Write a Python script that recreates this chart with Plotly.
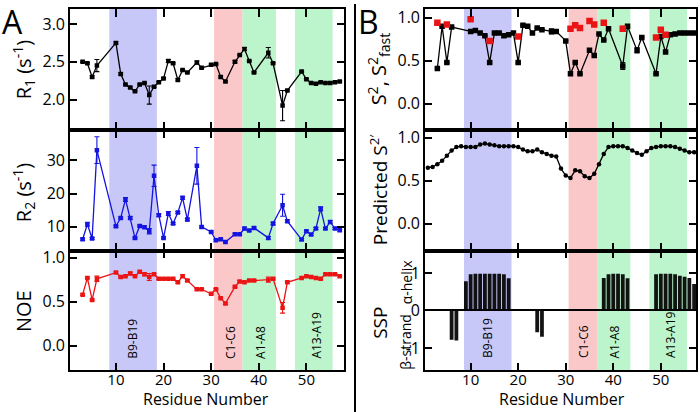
import plotly.graph_objects as go

# ---------------- data ----------------
residues = [3, 4, 5, 6, 10, 11, 12, 13, 14, 15, 16, 17, 18, 19, 20, 21, 22, 23, 24, 25,
            27, 28, 30, 31, 32, 33, 35, 36, 37, 38, 39, 42, 43, 45, 46,
            49, 50, 51, 52, 53, 54, 55, 56, 57]

r1 = [2.50, 2.48, 2.30, 2.45, 2.75, 2.34, 2.20, 2.16, 2.11, 2.20, 2.22, 2.06, 2.17, 2.23, 2.28, 2.51, 2.48, 2.26, 2.39, 2.36,
      2.49, 2.42, 2.46, 2.47, 2.30, 2.24, 2.50, 2.59, 2.67, 2.51, 2.36, 2.62, 2.48, 1.92, 2.12,
      2.37, 2.27, 2.22, 2.21, 2.23, 2.22, 2.22, 2.23, 2.24]
r1_err = [0.01, 0.01, 0.015, 0.08, 0.015, 0.015, 0.01, 0.01, 0.01, 0.01, 0.01, 0.12, 0.01, 0.01, 0.01, 0.02, 0.01, 0.015, 0.01, 0.01,
          0.02, 0.01, 0.01, 0.01, 0.015, 0.01, 0.015, 0.01, 0.02, 0.01, 0.01, 0.07, 0.01, 0.2, 0.01,
          0.01, 0.01, 0.01, 0.01, 0.01, 0.01, 0.01, 0.01, 0.01]

r2 = [6.3, 10.8, 6.5, 33.0, 10.2, 12.7, 18.2, 12.7, 6.7, 10.3, 9.9, 8.7, 25.3, 13.5, 6.7, 14.0, 11.0, 14.3, 18.7, 12.2,
      28.3, 10.0, 8.5, 6.0, 6.3, 5.5, 7.8, 7.8, 9.5, 8.9, 9.7, 6.7, 11.0, 16.5, 11.7,
      6.2, 8.7, 7.7, 9.5, 15.4, 9.5, 11.5, 9.5, 9.0]
r2_err = [0.3, 0.6, 0.3, 4.0, 0.3, 0.3, 0.6, 0.4, 0.3, 0.3, 0.3, 0.8, 3.2, 0.4, 0.3, 0.6, 0.3, 0.3, 0.4, 0.4,
          5.5, 0.3, 0.3, 0.3, 0.3, 0.3, 0.3, 0.3, 0.4, 0.3, 0.3, 0.4, 0.4, 3.3, 0.4,
          0.3, 0.3, 0.3, 0.3, 0.6, 0.3, 0.4, 0.3, 0.3]

noe = [0.58, 0.77, 0.52, 0.76, 0.83, 0.78, 0.79, 0.82, 0.79, 0.84, 0.81, 0.78, 0.81, 0.76, 0.76, 0.76, 0.76, 0.72, 0.79, 0.74,
       0.64, 0.64, 0.59, 0.64, 0.54, 0.48, 0.67, 0.73, 0.72, 0.74, 0.74, 0.75, 0.76, 0.43, 0.72,
       0.77, 0.79, 0.78, 0.77, 0.76, 0.81, 0.81, 0.81, 0.79]
noe_err = [0.01, 0.01, 0.01, 0.03, 0.01, 0.01, 0.01, 0.015, 0.01, 0.01, 0.015, 0.04, 0.01, 0.01, 0.01, 0.01, 0.01, 0.01, 0.015, 0.01,
           0.01, 0.01, 0.01, 0.01, 0.01, 0.01, 0.01, 0.01, 0.01, 0.01, 0.01, 0.03, 0.01, 0.06, 0.01,
           0.01, 0.01, 0.01, 0.01, 0.01, 0.01, 0.01, 0.01, 0.01]

s2 = [0.41, 0.90, 0.48, 0.89, 0.84, 0.85, 0.82, 0.79, 0.48, 0.82, 0.82, 0.79, 0.80, 0.82, 0.48, 0.91, 0.90, 0.82, 0.88, 0.86,
      0.84, 0.84, 0.73, 0.35, 0.48, 0.35, 0.62, 0.56, 0.81, 0.74, 0.87, 0.44, 0.90, 0.62, 0.77,
      0.35, 0.78, 0.60, 0.80, 0.81, 0.82, 0.82, 0.82, 0.82]
s2_err = [0.005, 0.005, 0.005, 0.005, 0.005, 0.005, 0.005, 0.005, 0.005, 0.005, 0.005, 0.02, 0.005, 0.005, 0.005, 0.005, 0.005, 0.005, 0.005, 0.005,
          0.03, 0.005, 0.005, 0.005, 0.005, 0.005, 0.005, 0.005, 0.005, 0.005, 0.005, 0.04, 0.005, 0.03, 0.005,
          0.005, 0.005, 0.005, 0.005, 0.005, 0.005, 0.005, 0.005, 0.005]

s2fast_res = [3, 5, 10, 14, 20, 31, 32, 33, 35, 36, 38, 42, 49, 50, 51]
s2fast = [0.94, 0.92, 0.98, 0.73, 0.78, 0.87, 0.91, 0.88, 0.96, 0.92, 0.94, 0.87, 0.77, 0.86, 0.80]
s2fast_err = [0, 0, 0, 0, 0, 0, 0, 0, 0, 0, 0, 0.03, 0, 0, 0]

pred_res = list(range(1, 58))
pred_s2 = [0.65, 0.66, 0.69, 0.73, 0.79, 0.85, 0.89, 0.90, 0.89, 0.89,
           0.89, 0.92, 0.93, 0.92, 0.91, 0.90, 0.90, 0.90, 0.90, 0.89,
           0.86, 0.84, 0.84, 0.86, 0.83, 0.81, 0.79, 0.78, 0.64, 0.56,
           0.53, 0.62, 0.61, 0.55, 0.53, 0.58, 0.69, 0.81, 0.89, 0.90,
           0.90, 0.90, 0.88, 0.85, 0.82, 0.80, 0.84, 0.88, 0.89, 0.90,
           0.90, 0.90, 0.89, 0.87, 0.85, 0.83, 0.83]

ssp_res = [6, 7, 9, 10, 11, 12, 13, 14, 15, 16, 17, 18, 24, 25,
           38, 39, 40, 41, 42, 43, 49, 50, 51, 52, 53, 54, 55, 56, 57]
ssp = [-0.78, -0.80, 0.78, 0.97, 0.98, 0.98, 0.98, 0.98, 0.98, 0.98, 0.97, 0.86, -0.58, -0.70,
       0.87, 0.97, 0.98, 0.98, 0.97, 0.86, 0.97, 0.98, 0.98, 0.98, 0.97, 0.93, 0.90, 0.87, 0.71]

band_labels = ["B9-B19", "C1-C6", "A1-A8", "A13-A19"]
band_start = [8.6, 30.6, 36.6, 47.6]
band_end = [18.6, 36.6, 43.6, 55.5]
band_colors = ["rgb(200,200,248)", "rgb(250,200,200)", "rgb(188,244,204)", "rgb(188,244,204)"]
label_pos_a = [13.6, 33.9, 40.2, 52.1]
label_pos_b = [13.4, 33.7, 40.3, 52.2]

x_ticks = [10, 20, 30, 40, 50]

# ---------------- layout geometry ----------------
W, H = 700, 412
FONT = "Open Sans"
def px(v):
    return v / W
def py(v):
    return 1 - v / H

xa_dom = [px(70), px(344)]
xb_dom = [px(425), px(696)]
rows = [(py(127), py(5)), (py(249), py(127)), (py(370), py(249))]

fig = go.Figure()

def series(x, y, err, color, n, symbol="square", size=4.5, width=1.3, mode="lines+markers"):
    kw = dict(x=x, y=y, mode=mode, xaxis="x" + ("" if n == 1 else str(n)),
              yaxis="y" + ("" if n == 1 else str(n)),
              line=dict(color=color, width=width),
              marker=dict(symbol=symbol, size=size, color=color),
              showlegend=False)
    if err is not None:
        kw["error_y"] = dict(type="data", array=err, color=color, thickness=1.1, width=2.5)
    fig.add_trace(go.Scatter(**kw))

black = "#000000"
blue = "rgb(20,20,225)"
red = "rgb(235,20,20)"

series(residues, r1, r1_err, black, 1)
series(residues, r2, r2_err, blue, 2)
series(residues, noe, noe_err, red, 3)
series(residues, s2, s2_err, black, 4, size=5.5)
series(s2fast_res, s2fast, s2fast_err, red, 4, size=6.5, mode="markers")
series(pred_res, pred_s2, None, black, 5, symbol="circle", size=4.5, width=1.3)
fig.add_trace(go.Bar(x=ssp_res, y=ssp, xaxis="x6", yaxis="y6", width=0.8,
                     marker=dict(color="rgba(0,0,0,0.92)", line=dict(width=0)), showlegend=False))

def xaxis(dom, rng, anchor, labels):
    return dict(domain=dom, range=rng, anchor=anchor, tickvals=x_ticks, ticks="inside", ticklen=8,
                tickwidth=1.5, tickcolor="black", showline=True, linecolor="black", linewidth=1.6,
                mirror="ticks", showgrid=False, zeroline=False, showticklabels=labels,
                ticklabelstandoff=-5,
                tickfont=dict(family=FONT, size=15, color="black"))

def yaxis(dom, rng, anchor, vals, text, zero=False):
    return dict(domain=dom, range=rng, anchor=anchor, tickvals=vals, ticktext=text, ticks="inside",
                ticklen=7, tickwidth=1.5, tickcolor="black", showline=True, linecolor="black",
                linewidth=1.6, mirror="ticks", showgrid=False, zeroline=zero, zerolinecolor="black",
                zerolinewidth=1.5, tickfont=dict(family=FONT, size=16, color="black"))

rngA = [0.35, 57.9]
rngB = [0.4, 57.4]
layout = dict(
    width=W, height=H, margin=dict(l=0, r=0, t=0, b=0),
    paper_bgcolor="white", plot_bgcolor="white",
    font=dict(family=FONT, color="black"),
    xaxis=xaxis(xa_dom, rngA, "y", False),
    xaxis2=xaxis(xa_dom, rngA, "y2", False),
    xaxis3=xaxis(xa_dom, rngA, "y3", True),
    xaxis4=xaxis(xb_dom, rngB, "y4", False),
    xaxis5=xaxis(xb_dom, rngB, "y5", False),
    xaxis6=xaxis(xb_dom, rngB, "y6", True),
    yaxis=yaxis(rows[0], [1.6, 3.2], "x", [2.0, 2.5, 3.0], ["2.0", "2.5", "3.0"]),
    yaxis2=yaxis(rows[1], [2.9, 39.1], "x2", [10, 20, 30], ["10", "20", "30"]),
    yaxis3=yaxis(rows[2], [-0.28, 1.08], "x3", [0, 0.5, 1.0], ["0.0", "0.5", "1.0"]),
    yaxis4=yaxis(rows[0], [-0.3, 1.1], "x4", [0, 0.5, 1.0], ["0.0", "0.5", "1.0"]),
    yaxis5=yaxis(rows[1], [-0.31, 1.09], "x5", [0, 0.5, 1.0], ["0.0", "0.5", "1.0"]),
    yaxis6=yaxis(rows[2], [-1.6, 1.6], "x6", [-1, 0, 1], ["-1", "0", "1"], zero=True),
)
fig.update_layout(**layout)

# shaded bands
shapes = []
for n in range(1, 7):
    xr = "x" + ("" if n == 1 else str(n))
    yr = "y" + ("" if n == 1 else str(n)) + " domain"
    for s, e, c in zip(band_start, band_end, band_colors):
        shapes.append(dict(type="rect", xref=xr, yref=yr, x0=s, x1=e, y0=0, y1=1,
                           fillcolor=c, line=dict(width=0), layer="below"))
# divider between panels
shapes.append(dict(type="line", xref="paper", yref="paper", x0=px(355), x1=px(355), y0=0, y1=1,
                   line=dict(color="black", width=2)))
fig.update_layout(shapes=shapes)

ann = []
for lab, xa, xb in zip(band_labels, label_pos_a, label_pos_b):
    ann.append(dict(text=lab, x=xa, y=-0.17, xref="x3", yref="y3", textangle=-90, showarrow=False,
                    xanchor="center", yanchor="bottom", font=dict(family=FONT, size=12, color="black")))
    ann.append(dict(text=lab, x=xb, y=-1.33, xref="x6", yref="y6", textangle=-90, showarrow=False,
                    xanchor="center", yanchor="bottom", font=dict(family=FONT, size=12, color="black")))

def title(text, x, y, size=20, angle=-90, yanchor="middle"):
    ann.append(dict(text=text, x=px(x), y=py(y), xref="paper", yref="paper", textangle=angle,
                    showarrow=False, xanchor="center", yanchor=yanchor,
                    font=dict(family=FONT, size=size, color="black")))

title("R<sub>1</sub> (s<sup>-1</sup>)", 24, 66)
title("R<sub>2</sub> (s<sup>-1</sup>)", 24, 190)
title("NOE", 24, 310)
title("S<sup>2</sup>, S<sup>2</sup><sub>fast</sub>", 379, 66)
title("Predicted S<sup>2′</sup>", 379, 188, size=19)
title("SSP", 380, 322, size=19)
title("α-helix", 406, 281, size=14)
title("β-strand", 406, 341, size=14)
title("Residue Number", 206, 412, size=16, angle=0, yanchor="bottom")
title("Residue Number", 562, 412, size=16, angle=0, yanchor="bottom")

for t, x in (("A", 12), ("B", 368)):
    ann.append(dict(text=t, x=px(x), y=py(18), xref="paper", yref="paper", showarrow=False,
                    xanchor="center", yanchor="middle", font=dict(family=FONT, size=32, color="black")))

fig.update_layout(annotations=ann)
fig.write_html("out.html", config={"displayModeBar": False},
               post_script="document.body.style.margin='0';document.body.style.overflow='hidden';")
